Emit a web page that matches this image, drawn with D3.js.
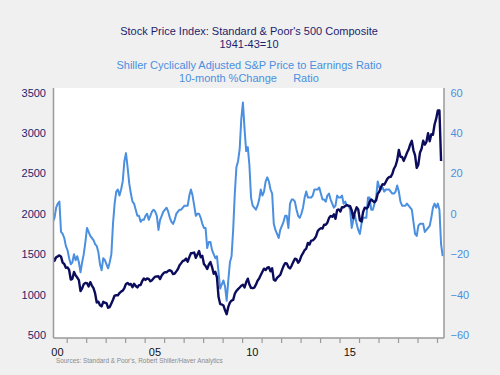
<!DOCTYPE html>
<html>
<head>
<meta charset="utf-8">
<script src="https://cdn.jsdelivr.net/npm/d3@7/dist/d3.min.js"></script>
<style>
  body { margin: 0; background: #f0f0f0; }
  svg { display: block; font-family: "Liberation Sans", Arial, sans-serif; }
</style>
</head>
<body>
<div id="chart"></div>
<script>

// First month of both series: April 2000.
var start_year = 2000;
var start_month = 3;

// S&P 500 monthly average, Apr 2000 - Mar 2020 (left axis).
var spx = [
  1461, 1418, 1462, 1473, 1485, 1469, 1395, 1379, 1331,
  1336, 1305, 1186, 1195, 1280, 1238, 1211, 1178, 1044, 1077, 1129, 1144,
  1140, 1101, 1154, 1112, 1080, 1014, 903, 912, 868, 854, 910, 899,
  895, 837, 846, 890, 936, 988, 992, 990, 1019, 1038, 1049, 1081,
  1132, 1144, 1124, 1131, 1091, 1133, 1106, 1088, 1117, 1118, 1168, 1199,
  1181, 1199, 1195, 1164, 1178, 1202, 1222, 1224, 1226, 1192, 1237, 1262,
  1278, 1277, 1293, 1302, 1290, 1254, 1260, 1287, 1317, 1363, 1389, 1416,
  1424, 1445, 1407, 1463, 1511, 1515, 1520, 1455, 1497, 1539, 1463, 1479,
  1378, 1354, 1317, 1370, 1403, 1341, 1257, 1281, 1217, 969, 883, 878,
  866, 806, 757, 848, 902, 926, 935, 1010, 1045, 1067, 1088, 1110,
  1123, 1089, 1152, 1197, 1125, 1083, 1079, 1087, 1122, 1171, 1198, 1242,
  1283, 1321, 1304, 1332, 1338, 1288, 1325, 1185, 1173, 1207, 1226, 1243,
  1300, 1352, 1389, 1386, 1341, 1323, 1359, 1403, 1443, 1437, 1394, 1422,
  1480, 1512, 1551, 1570, 1639, 1619, 1668, 1670, 1688, 1721, 1783, 1807,
  1822, 1817, 1864, 1864, 1890, 1947, 1973, 1962, 1993, 1937, 2045, 2054,
  2028, 2082, 2080, 2095, 2108, 2099, 2094, 2040, 1944, 2024, 2080, 2054,
  1919, 1904, 2022, 2075, 2065, 2083, 2149, 2177, 2158, 2143, 2165, 2247,
  2275, 2330, 2366, 2360, 2395, 2434, 2454, 2456, 2493, 2557, 2594, 2664,
  2790, 2705, 2703, 2654, 2701, 2754, 2794, 2857, 2902, 2785, 2723, 2567,
  2607, 2755, 2804, 2903, 2855, 2890, 2996, 2897, 2983, 2977, 3104, 3176,
  3278, 3278, 2652
];

// Shiller CAPE, 10-month % change, Apr 2000 - Apr 2020 (right axis).
var cape_change = [
  -4, -2, 3, 5, 6, -9, -10, -12, -16,
  -18, -22, -25, -24, -20, -23, -21, -24, -29, -24, -20, -14,
  -7, -9, -11, -12, -13, -15, -16, -19, -25, -28, -22, -23,
  -25, -27, -24, -20, -5, 5, 11, 12, 9, 12, 16, 26,
  30, 23, 15, 10, 6, 5, 2, -1, -1, -4, -3, -3,
  -1, 0, -3, -1, 1, 2, 1, -1, -8, -3, -1, 1,
  2, 3, 1, -2, -4, -5, -3, 0, 1, 2, 2, 3,
  4, 4, 4, 9, 12, 9, 4, -1, 0, 0, -2, -5,
  -7, -7, -17, -14, -14, -18, -20, -22, -21, -29, -37, -35,
  -33, -36, -43, -33, -24, -21, -8, 10, 23, 26, 32, 47,
  55, 42, 31, 33, 24, 8, 4, 3, 2, 4, 7, 12,
  9, 11, 16, 18, 16, 12, 10, -5, -8, -10, -12, -8,
  -6, -4, -1, -1, -7, 5, 7, 7, 6, 2, -1, -2,
  0, 3, 8, 11, 8, 8, 8, 9, 12, 12, 12, 13,
  10, 7, 7, 6, 9, 10, 7, 5, 3, 4, 9, 8,
  8, 9, 5, 6, 4, 4, 2, -7, -3, -1, -5, -8,
  -10, -5, -2, -2, -2, 8, 8, 2, 2, 5, 8, 16,
  13, 12, 13, 11, 12, 12, 12, 11, 10, 10, 11, 14,
  11, 6, 4, 4, 4, 5, 4, 3, 2, -4, -10, -11,
  -6, -5, -5, -5, -9, -8, -7, -6, -2, 3, 5, 3,
  5, 2, -15, -21
];

var left_ticks = [500, 1000, 1500, 2000, 2500, 3000, 3500];
var right_ticks = [-60, -40, -20, 0, 20, 40, 60];
var year_ticks = d3.range(2001, 2021);
var year_labels = [2000, 2005, 2010, 2015];

var dark = '#0c0c5c';
var light = '#4a8fe0';
var title_color = '#1e1e6e';

var width = 500, height = 375;
var frame = { left: 53.5, right: 444, top: 88, bottom: 338 };

var svg = d3.select('#chart')
  .append('svg')
    .attr('width', width)
    .attr('height', height);

// Plot area.
svg.append('rect')
  .attr('x', frame.left)
  .attr('y', frame.top)
  .attr('width', frame.right - frame.left)
  .attr('height', frame.bottom - frame.top)
  .attr('fill', '#ffffff');

// Scales. Months sit at their middle on a decimal year axis.
var x = d3.scaleLinear().domain([2001, 2020]).range([66.7, 437]);
var y_left = d3.scaleLinear().domain([500, 3500]).range([335, 92.5]);
var y_right = d3.scaleLinear().domain([-60, 60]).range([335, 92.5]);

function month_pos(i){
  return start_year + (start_month + i + 0.5) / 12;
}

svg.append('clipPath')
  .attr('id', 'plotclip')
  .append('rect')
    .attr('x', frame.left)
    .attr('y', frame.top)
    .attr('width', frame.right - frame.left)
    .attr('height', frame.bottom - frame.top);

// Lines.
var cape_line = d3.line()
  .x(function(d, i){ return x(month_pos(i)); })
  .y(function(d){ return y_right(d); });
var spx_line = d3.line()
  .x(function(d, i){ return x(month_pos(i)); })
  .y(function(d){ return y_left(d); });

var plot = svg.append('g').attr('clip-path', 'url(#plotclip)');
plot.append('path')
  .datum(cape_change)
  .attr('d', cape_line)
  .attr('fill', 'none')
  .attr('stroke', light)
  .attr('stroke-width', 2)
  .attr('stroke-linejoin', 'round');
plot.append('path')
  .datum(spx)
  .attr('d', spx_line)
  .attr('fill', 'none')
  .attr('stroke', dark)
  .attr('stroke-width', 2.4)
  .attr('stroke-linejoin', 'round');

// Frame lines: left, right, bottom.
var frame_color = '#9a9a9a';
[[frame.left, frame.top, frame.left, frame.bottom],
 [frame.right, frame.top, frame.right, frame.bottom],
 [frame.left, frame.bottom, frame.right, frame.bottom]].forEach(function(p){
  svg.append('line')
    .attr('x1', p[0]).attr('y1', p[1]).attr('x2', p[2]).attr('y2', p[3])
    .attr('stroke', frame_color)
    .attr('stroke-width', 1.5);
});

// Left axis labels.
var left_axis = svg.append('g')
  .attr('transform', 'translate(' + frame.left + ',0)')
  .call(d3.axisLeft(y_left).tickValues(left_ticks).tickSize(0).tickPadding(7.5).tickFormat(d3.format('d')));
left_axis.select('.domain').remove();
left_axis.selectAll('text')
  .attr('fill', title_color)
  .style('font-size', '11px');

// Right axis labels.
var right_axis = svg.append('g')
  .attr('transform', 'translate(' + frame.right + ',0)')
  .call(d3.axisRight(y_right).tickValues(right_ticks).tickSize(0).tickPadding(6.5).tickFormat(d3.format('d')));
right_axis.select('.domain').remove();
right_axis.selectAll('text')
  .attr('fill', light)
  .style('font-size', '11px');

// Year ticks below the frame.
var x_axis = svg.append('g')
  .attr('transform', 'translate(0,' + frame.bottom + ')')
  .call(d3.axisBottom(x).tickValues(year_ticks).tickSize(5).tickFormat(''));
x_axis.select('.domain').remove();
x_axis.selectAll('line')
  .attr('stroke', frame_color)
  .attr('stroke-width', 1.2);

// Year labels centred in their year.
var x_labels = svg.append('g')
  .attr('transform', 'translate(0,' + frame.bottom + ')')
  .call(d3.axisBottom(x)
    .tickValues(year_labels.map(function(d){ return d + 0.5; }))
    .tickSize(0)
    .tickPadding(10.5)
    .tickFormat(function(d){ return d3.format('02d')(Math.floor(d) % 100); }));
x_labels.select('.domain').remove();
x_labels.selectAll('text')
  .attr('fill', '#111111')
  .style('font-size', '11px');

// Titles.
function add_text(txt, tx, ty, color, size, anchor){
  svg.append('text')
    .attr('x', tx)
    .attr('y', ty)
    .attr('text-anchor', anchor || 'middle')
    .attr('fill', color)
    .style('font-size', size + 'px')
    .text(txt);
}
add_text("Stock Price Index: Standard & Poor's 500 Composite", 249, 35, title_color, 11);
add_text('1941-43=10', 249, 48, title_color, 11);
add_text('Shiller Cyclically Adjusted S&P Price to Earnings Ratio', 249, 69, light, 11);
add_text('10-month %Change', 228, 82, light, 11);
add_text('Ratio', 306, 82, light, 11);
add_text("Sources:  Standard & Poor's, Robert Shiller/Haver Analytics", 56, 363, '#8a8a8a', 6.4, 'start');

</script>
</body>
</html>
